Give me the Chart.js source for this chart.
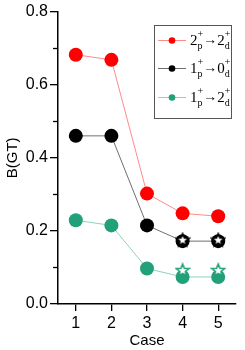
<!DOCTYPE html>
<html>
<head>
<meta charset="utf-8">
<script src="https://cdn.jsdelivr.net/npm/chart.js@4/dist/chart.umd.min.js"></script>
<style>
  html, body { margin: 0; padding: 0; background: #fff; }
  #wrap { position: relative; width: 245px; height: 350px; }
</style>
</head>
<body>
<div id="wrap"><canvas id="c" width="245" height="350"></canvas></div>
<script>
// data
const cases    = [1, 2, 3, 4, 5]
const b22      = [0.682, 0.668, 0.302, 0.248, 0.240]   // 2p+ -> 2d+
const b10      = [0.460, 0.460, 0.215, 0.172, 0.172]   // 1p+ -> 0d+
const b12      = [0.229, 0.215, 0.097, 0.074, 0.074]   // 1p+ -> 2d+
const starCases = [4, 5]
const star10   = [0.176, 0.176]
const star12   = [0.093, 0.093]
const yTicks   = [0.0, 0.2, 0.4, 0.6, 0.8]

const RED = '#ff0000', BLACK = '#000000', GREEN = '#22a079'

function pts(xs, ys) { return xs.map((x, i) => ({ x, y: ys[i] })) }

function makeStar(stroke) {
  const c = document.createElement('canvas')
  c.width = 16; c.height = 16
  const g = c.getContext('2d')
  g.beginPath()
  for (let i = 0; i < 10; i++) {
    const r = i % 2 ? 2.9 : 6.6
    const a = -Math.PI / 2 + i * Math.PI / 5
    const px = 8 + r * Math.cos(a), py = 8.6 + r * Math.sin(a)
    i ? g.lineTo(px, py) : g.moveTo(px, py)
  }
  g.closePath()
  g.fillStyle = '#fff'
  g.fill()
  g.lineWidth = 1.6
  g.strokeStyle = stroke
  g.stroke()
  return c
}

// stacked sup/sub label, e.g. 2 (+ above, p below)
function drawTerm(g, x, y, base, sup, sub) {
  g.font = '15px "Liberation Serif", serif'
  g.fillText(base, x, y)
  const w = g.measureText(base).width
  g.font = '10px "Liberation Serif", serif'
  g.fillText(sup, x + w, y - 7)
  g.fillText(sub, x + w, y + 5)
  return x + w + Math.max(g.measureText(sup).width, g.measureText(sub).width)
}

const legendItems = [
  { color: RED,   line: '#ff8a8a', a: '2', b: 'p', c: '2', d: 'd' },
  { color: BLACK, line: '#6f6f6f', a: '1', b: 'p', c: '0', d: 'd' },
  { color: GREEN, line: '#8ed2b8', a: '1', b: 'p', c: '2', d: 'd' },
]

const legendPlugin = {
  id: 'boxLegend',
  afterDraw(chart) {
    const g = chart.ctx
    g.save()
    g.strokeStyle = '#555'
    g.lineWidth = 1
    g.strokeRect(154.5, 25.5, 77, 93)
    const rows = [40, 68, 97]
    legendItems.forEach((it, i) => {
      const y = rows[i]
      g.strokeStyle = it.line
      g.beginPath(); g.moveTo(158, y + 0.5); g.lineTo(186, y + 0.5); g.stroke()
      g.fillStyle = it.color
      g.beginPath(); g.arc(172, y + 0.5, 3.3, 0, Math.PI * 2); g.fill()
      g.fillStyle = '#000'
      g.textBaseline = 'middle'
      let x = drawTerm(g, 190, y + 1, it.a, '+', it.b)
      g.font = '14px "Liberation Serif", serif'
      g.fillText('\u2192', x, y)
      x += g.measureText('\u2192').width
      drawTerm(g, x, y + 1, it.c, '+', it.d)
    })
    g.restore()
  }
}

// short minor ticks at the odd tenths
const minorTicks = {
  id: 'minorTicks',
  afterDraw(chart) {
    const g = chart.ctx, ys = chart.scales.y, left = chart.chartArea.left
    g.save()
    g.strokeStyle = '#000'
    g.lineWidth = 1.3
    for (let v = 0.1; v < 0.8; v += 0.2) {
      const py = Math.round(ys.getPixelForValue(v)) + 0.5
      g.beginPath(); g.moveTo(left - 5, py); g.lineTo(left, py); g.stroke()
    }
    g.restore()
  }
}

const lineDs = (label, data, color, line, ord) => ({
  label, data: pts(cases, data), showLine: true,
  borderColor: line, borderWidth: 1,
  backgroundColor: color, pointBackgroundColor: color, pointBorderWidth: 0,
  pointRadius: 7, pointHoverRadius: 7, order: ord
})
const starDs = (data, stroke) => ({
  label: '', data: pts(starCases, data), showLine: false,
  pointStyle: makeStar(stroke), pointRadius: 8, order: 0
})

new Chart(document.getElementById('c'), {
  type: 'scatter',
  data: {
    datasets: [
      lineDs('22', b22, RED, '#ff8a8a', 3),
      lineDs('10', b10, BLACK, '#6f6f6f', 2),
      lineDs('12', b12, GREEN, '#8ed2b8', 1),
      starDs(star10, BLACK),
      starDs(star12, GREEN),
    ]
  },
  options: {
    responsive: false,
    animation: false,
    events: [],
    layout: { padding: { top: 7, right: 0, left: 0, bottom: 0 } },
    plugins: { legend: { display: false }, tooltip: { enabled: false } },
    scales: {
      x: {
        type: 'linear', min: 0.5, max: 5.5,
        afterBuildTicks: s => { s.ticks = cases.map(v => ({ value: v })) },
        ticks: { color: '#000', padding: 3, font: { family: 'Liberation Sans', size: 16 } },
        grid: { drawOnChartArea: false, tickLength: 7, color: '#000', lineWidth: 1.3 },
        border: { color: '#000', width: 1.5 },
        title: { display: true, text: 'Case', color: '#000', padding: { top: 0, bottom: 0 },
                 font: { family: 'Liberation Sans', size: 15 } },
        afterFit: s => { s.height = 46 }
      },
      y: {
        min: 0, max: 0.8,
        afterBuildTicks: s => { s.ticks = yTicks.map(v => ({ value: v })) },
        ticks: { color: '#000', padding: 2, callback: v => v.toFixed(1),
                 font: { family: 'Liberation Sans', size: 16 } },
        grid: { drawOnChartArea: false, tickLength: 8, color: '#000', lineWidth: 1.3 },
        border: { color: '#000', width: 1.5 },
        title: { display: true, text: 'B(GT)', color: '#000', padding: { top: 4, bottom: 0 },
                 font: { family: 'Liberation Sans', size: 15 } },
        afterFit: s => { s.width = 58 }
      }
    }
  },
  plugins: [legendPlugin, minorTicks]
})
</script>
</body>
</html>
